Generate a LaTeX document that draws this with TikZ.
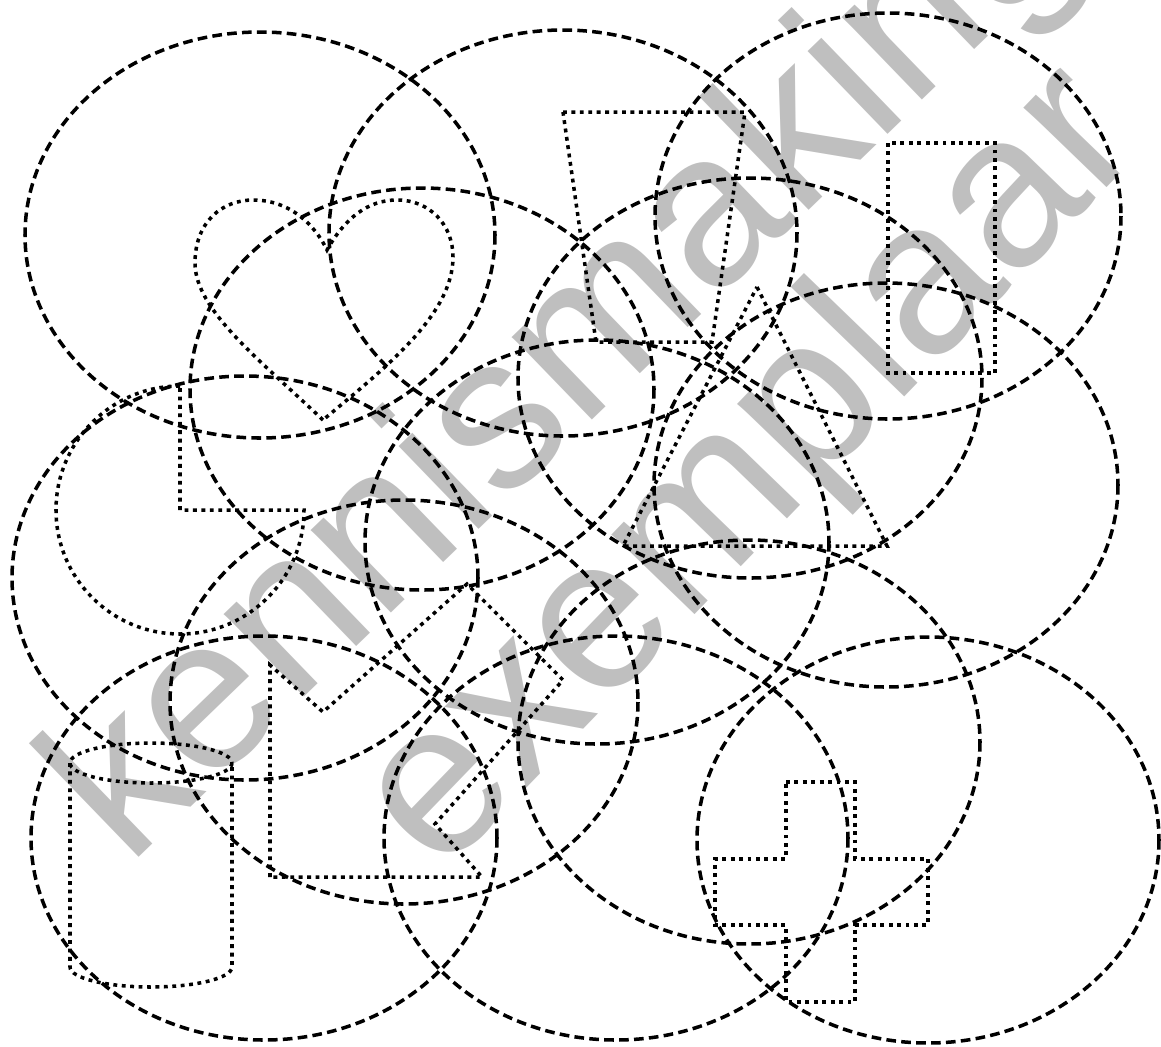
\documentclass[tikz,border=0pt]{standalone}
\usepackage{fontspec}
\setmainfont{Liberation Sans}
\begin{document}
\begin{tikzpicture}[x=0.02cm,y=-0.02cm,
    ring/.style={line width=2pt,dash pattern=on 5.5pt off 3pt},
    vorm/.style={line width=2pt,dash pattern=on 2.2pt off 2.6pt},
    stempel/.style={black!25,font=\fontsize{124}{124}\selectfont,
      anchor=base west,inner sep=0pt}]
  \useasboundingbox (0,0) rectangle (1161,1046);
  % watermark under everything
  \node[stempel,rotate=44] (kennis) at (128,868) {kennismaking};
  \node[stempel,rotate=46] (exempl) at (440,878) {exemplaar};

  % dashed ellipses, row by row
  \foreach \cx/\cy/\rx/\ry in {260/235/235/203, 563/233/234/203, 888/216/233/203,
      422/389/232/201, 750/378/232/200,
      245/578/233/202, 597/542/232/202, 886/485/232/202,
      404/702/234/202, 749/742/231/202,
      264/838/233/202, 616/838/232/202, 928/840/231/203}
    \draw[ring] (\cx,\cy) ellipse [x radius=\rx, y radius=\ry];

  % heart
  \draw[vorm] (323,420) .. controls (260,360) and (195,310) .. (195,263)
    .. controls (195,222) and (222,200) .. (253,200)
    .. controls (290,200) and (315,225) .. (327,250)
    .. controls (345,218) and (368,200) .. (397,200)
    .. controls (430,200) and (453,225) .. (453,257)
    .. controls (453,315) and (385,368) .. cycle;
  % three quarter disc
  \draw[vorm] (180,386) arc [start angle=-90, end angle=-360, radius=124]
    -- (180,510) -- cycle;
  % trapezoid, bar, triangle
  \draw[vorm] (563,112) -- (745,112) -- (712,342) -- (596,342) -- cycle;
  \draw[vorm] (888,143) rectangle (995,373);
  \draw[vorm] (757,287) -- (887,546) -- (623,546) -- cycle;
  % arrow pointing down-left
  \draw[vorm] (270,877) -- (270,665) -- (323,712) -- (467,584) -- (563,680)
    -- (435,824) -- (482,877) -- cycle;
  % cylinder
  \draw[vorm] (151,763) ellipse [x radius=81, y radius=20];
  \draw[vorm] (70,763) -- (70,967) arc [start angle=180, end angle=0,
    x radius=81, y radius=20] -- (232,763);
  % cross
  \draw[vorm] (786,782) -- (855,782) -- (855,859) -- (928,859) -- (928,925)
    -- (855,925) -- (855,1002) -- (786,1002) -- (786,925) -- (715,925)
    -- (715,859) -- (786,859) -- cycle;
\end{tikzpicture}
\end{document}
